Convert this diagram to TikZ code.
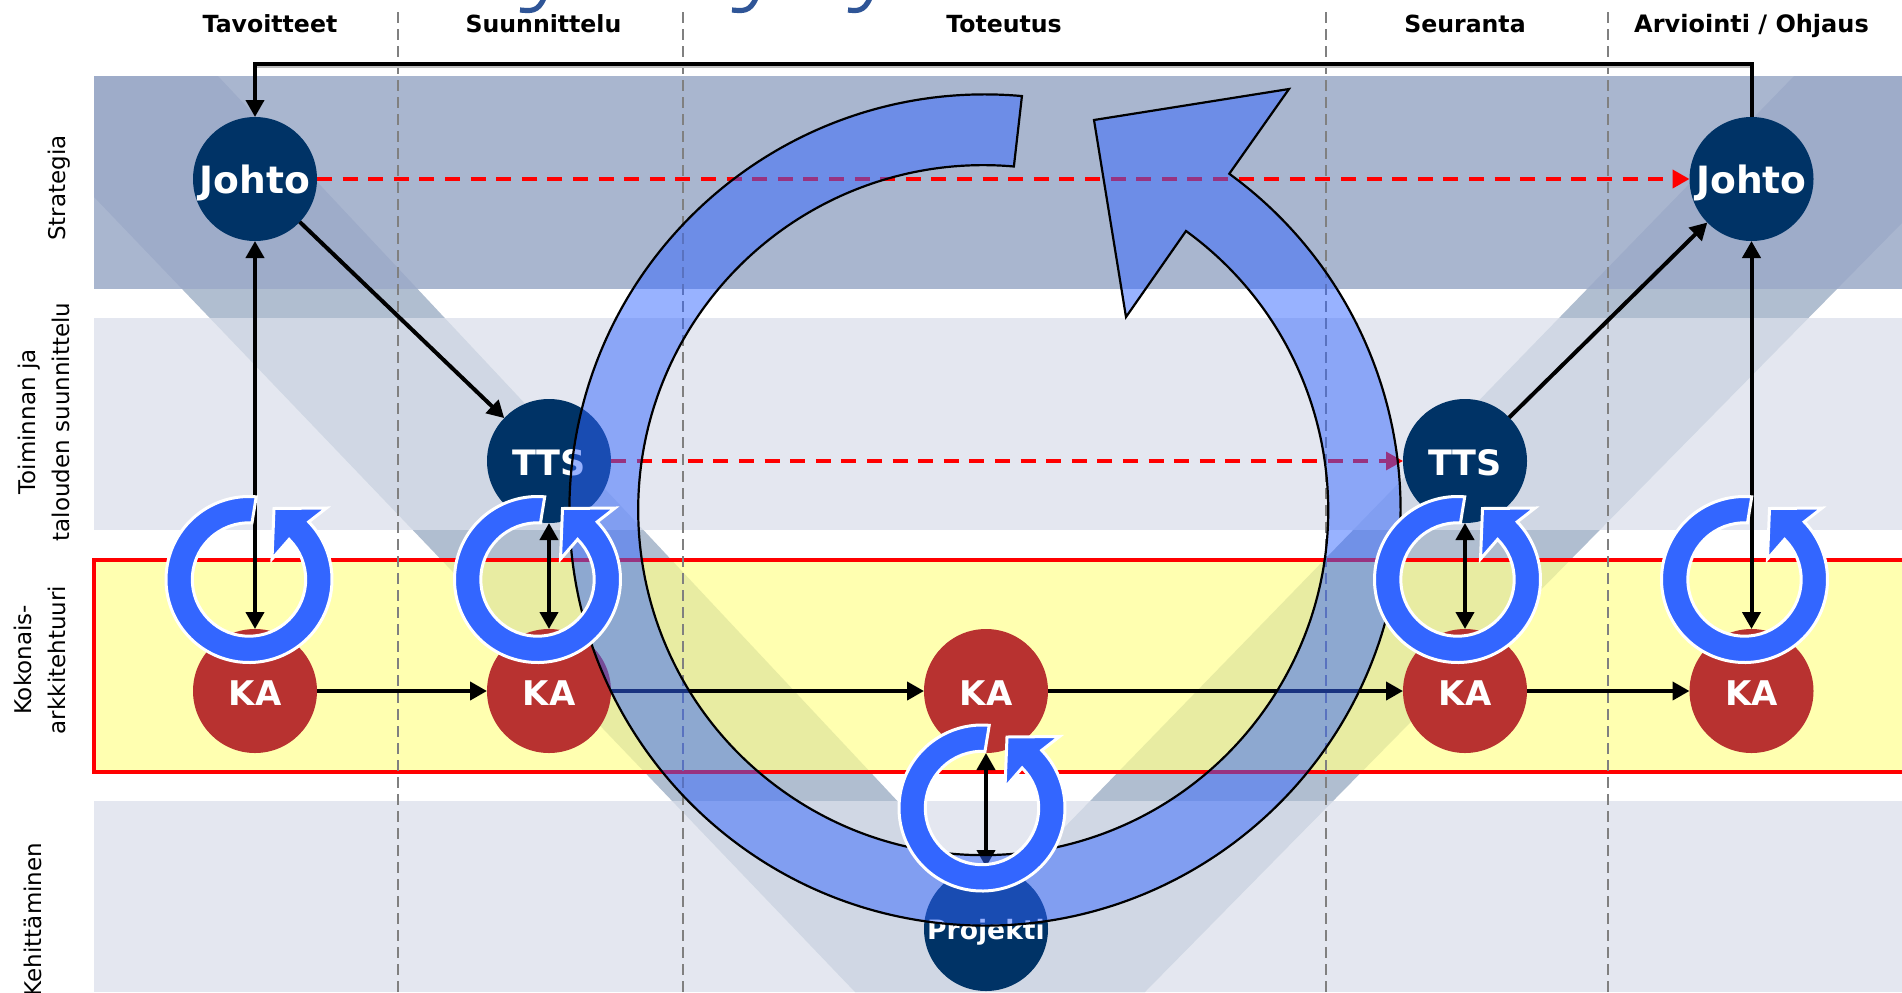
\documentclass[tikz,border=0pt]{standalone}
\usepackage{fontspec}
\setmainfont{DejaVu Sans}
\usepackage{xcolor}
\definecolor{Navy}{HTML}{003366}
\definecolor{Brick}{HTML}{B83230}
\definecolor{Cobalt}{HTML}{3366FF}
\definecolor{Slate}{HTML}{003068}
\definecolor{Title}{HTML}{2F5597}
\definecolor{Steel}{HTML}{9CAAC8}
\definecolor{Mist}{HTML}{DBE0EB}
\definecolor{Butter}{HTML}{FFFF90}
\colorlet{cBlue}{Cobalt}
\usepackage{tikz}
\usetikzlibrary{calc, positioning, arrows.meta}
\tikzset{
	>={Triangle[length=8.5pt,width=9pt]},
	vertex/.style={
		circle,
		minimum size=62pt,
		inner sep=0pt,
		outer sep=0pt,
		text=white,
		text height=14.8pt,
		text depth=0pt,
		font=\fontsize{17.5}{20}\selectfont\bfseries
	},
	johto/.style={vertex, fill=Navy},
	ka/.style={vertex, fill=Brick, font=\fontsize{17}{20}\selectfont\bfseries},
	header/.style={
		anchor=base,
		font=\fontsize{11.8}{14}\selectfont\bfseries
	},
	sidelabel/.style={
		rotate=90,
		align=center,
		inner sep=0pt,
		font=\fontsize{11.5}{17}\selectfont
	},
	phase/.style={draw=gray, line width=1pt, dash pattern=on 5.5pt off 3pt},
	edge/.style={->},
	bothways/.style={<->},
	plan/.style={->, draw=red, dash pattern=on 7.5pt off 5.3pt, line width=#1},
	big cycle/.style={fill=cBlue, fill opacity=.5, draw=black, line width=1.1pt},
	small cycle/.style={fill=cBlue, draw=white, line width=1.5pt, line join=miter},
	title hook/.style={draw=Title, line width=2.6pt}
}

\begin{document}
\begin{tikzpicture}[x=.5pt, y=-.5pt, line width=2pt]
	\clip (0,0) rectangle (1902,992);
	\fill[white] (0,0) rectangle (1902,992);

	% the title above is cut off, only its tails remain
	\draw[title hook] (544,-2) .. controls (538,12) and (531,11) .. (520,10);
	\draw[title hook] (756,-2) .. controls (750,12) and (743,11) .. (732,10);
	\draw[title hook] (870,-2) .. controls (864,12) and (857,11) .. (848,10);

	\fill[Slate, fill opacity=.31] (94,76) -- (218,76) -- (992,902) -- (1794,76) -- (1902,76) -- (1902,223)
		-- (1145,992) -- (855,992) -- (94,197) -- cycle;

	\fill[Steel, fill opacity=.86] (94,76) rectangle (1902,289);
	\fill[Mist, fill opacity=.75] (94,318) rectangle (1902,530);
	\fill[Mist, fill opacity=.75] (94,801) rectangle (1902,992);
	\fill[Butter, fill opacity=.71] (94,560) rectangle (1920,772);
	\draw[red] (1920,560) -- (94,560) -- (94,772) -- (1920,772);

	\foreach \x in {398, 683, 1326, 1608} {
		\draw[phase] (\x,12) -- (\x,992);
	}

	\node[header] (h1) at (270,32) {Tavoitteet};
	\node[header] (h2) at (543.5,32) {Suunnittelu};
	\node[header] (h3) at (1004,32) {Toteutus};
	\node[header] (h4) at (1465,32) {Seuranta};
	\node[header, font=\fontsize{12}{14}\selectfont\bfseries] (h5) at (1751.5,32) {Arviointi / Ohjaus};

	\node[sidelabel] (l1) at (59,188) {Strategia};
	\node[sidelabel] (l2) at (44,422) {Toiminnan ja\\talouden suunnittelu};
	\node[sidelabel] (l3) at (40,660) {Kokonais-\\arkkitehtuuri};
	\node[sidelabel] (l4) at (33,919.5) {Kehittäminen};

	\node[ka] (ka1) at (255,691) {KA};
	\node[ka] (ka2) [right = 85pt of ka1] {KA};
	\node[ka] (ka3) [right = 156.5pt of ka2] {KA};
	\node[ka] (ka4) [right = 177.5pt of ka3] {KA};
	\node[ka] (ka5) [right = 81.25pt of ka4] {KA};
	\node[johto, font=\fontsize{18.8}{20}\selectfont\bfseries] (johto1) [above = 194pt of ka1] {Johto};
	\node[johto, font=\fontsize{18.8}{20}\selectfont\bfseries] (johto2) [above = 194pt of ka5] {Johto};
	\node[johto] (tts1) [above = 53pt of ka2] {TTS};
	\node[johto] (tts2) [above = 53pt of ka4] {TTS};
	\node[johto, text height=10pt, font=\fontsize{13.3}{16}\selectfont\bfseries] (proj) [below = 57pt of ka3] {Projekti};

	\draw[plan=2pt] (johto1) -- (johto2);
	\draw[plan=1.6pt] (tts1) -- (tts2);

	\draw[edge] (johto1) -- (tts1);
	\draw[edge] (tts2) -- (johto2);
	\draw[edge] (ka1) -- (ka2);
	\draw[edge] (ka2) -- (ka3);
	\draw[edge] (ka3) -- (ka4);
	\draw[edge] (ka4) -- (ka5);
	\draw[bothways] (johto1) -- (ka1);
	\draw[bothways] (johto2) -- (ka5);
	\draw[bothways] (tts1) -- (ka2);
	\draw[bothways] (tts2) -- (ka4);
	\draw[bothways] (ka3) -- (proj);

	\draw[lightgray] (johto2.north |- 0,66) -- (johto1.north |- 0,66);
	\draw[edge] (johto2.north) -- ++(0,-53.5) -| (johto1.north);

	\draw[big cycle] (985,510) ++(-84.9:415.6) arc[start angle=-84.9, end angle=-414, radius=415.6]
		-- (1289,89) -- (1094,120) -- (1126,317) -- (1186,231)
		arc[start angle=-414, end angle=-84.9, radius=345] -- cycle;

	\foreach \c in {(249,579.5), (537.5,579.5), (982,808), (1457.5,579.5), (1744.5,579.5)} {
		\draw[small cycle, shift={\c}] (-85:83) arc[start angle=-85, end angle=-404, radius=83]
			-- (77.5,-71.5) -- (25,-71) -- (23,-20.5) -- (-405:56.7)
			arc[start angle=-405, end angle=-87, radius=56.7] -- cycle;
	}
\end{tikzpicture}
\end{document}
